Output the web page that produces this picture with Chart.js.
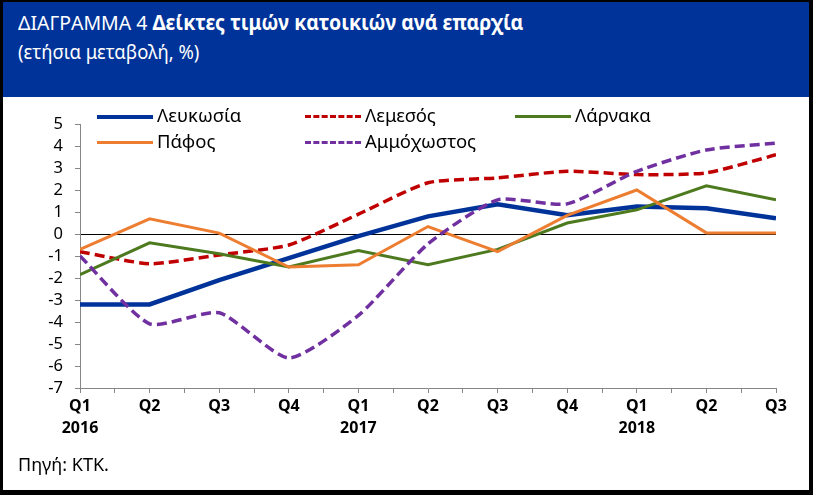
<!DOCTYPE html>
<html><head><meta charset="utf-8">
<script src="https://cdn.jsdelivr.net/npm/chart.js@4"></script>
<style>
html,body{margin:0;padding:0;background:#fff;}
#wrap{position:absolute;left:0;top:0;width:813px;height:495px;overflow:hidden;font-family:"Noto Sans",sans-serif;}
#frame{position:absolute;left:0;top:0;width:813px;height:495px;box-sizing:border-box;border-style:solid;border-color:#000;border-width:2px 4px 5px 3px;z-index:3;pointer-events:none;}
#header{position:absolute;left:3px;top:2px;width:806px;height:95px;background:#003399;z-index:2;}
.t{position:absolute;color:#fff;white-space:nowrap;transform-origin:0 50%;}
#c{position:absolute;left:0;top:0;z-index:1;}
#legend{position:absolute;left:0;top:0;z-index:2;}
.li{position:absolute;height:20px;}
.ls{position:absolute;top:9px;width:56px;height:0;}
.lt{position:absolute;left:60px;top:-4px;font-size:18.5px;white-space:nowrap;color:#000;transform-origin:0 50%;}
#src{position:absolute;left:18px;top:452px;font-size:18px;color:#000;z-index:2;white-space:nowrap;transform-origin:0 50%;}
</style></head>
<body>
<div id="wrap">
<div id="header">
 <div class="t" style="left:15px;top:6px;font-size:20.5px;transform:scaleX(0.95);">ΔΙΑΓΡΑΜΜΑ 4 <b>Δείκτες τιμών κατοικιών ανά επαρχία</b></div>
 <div class="t" style="left:15px;top:35px;font-size:20.5px;transform:scaleX(0.9);">(ετήσια μεταβολή, %)</div>
</div>
<canvas id="c" width="813" height="495"></canvas>
<div id="legend"></div>
<div id="src">Πηγή: ΚΤΚ.</div>
<div id="frame"></div>
</div>
<script>
// Data
const quarters = ["Q1","Q2","Q3","Q4","Q1","Q2","Q3","Q4","Q1","Q2","Q3"];
const years = ["2016","","","","2017","","","","2018","",""];
const seriesNames = ["Λευκωσία","Λεμεσός","Λάρνακα","Πάφος","Αμμόχωστος"];
const nicosia   = [-3.2,-3.2,-2.1,-1.1,-0.1,0.8,1.35,0.85,1.25,1.17,0.72];
const limassol  = [-0.8,-1.35,-0.95,-0.5,0.9,2.33,2.55,2.85,2.7,2.78,3.6];
const larnaca   = [-1.85,-0.4,-0.9,-1.5,-0.75,-1.4,-0.7,0.5,1.1,2.19,1.55];
const paphos    = [-0.7,0.69,0.04,-1.5,-1.4,0.34,-0.8,0.85,2.0,0.05,0.05];
const famagusta = [-1.0,-4.08,-3.58,-5.64,-3.7,-0.45,1.55,1.37,2.85,3.82,4.13];
const yTicksMin = -7, yTicksMax = 5;

const styles = [
 {color:"#003399", width:4.5, dash:[], tension:0},
 {color:"#C00000", width:3.5, dash:[10,5], tension:0.2},
 {color:"#4E7A1F", width:3, dash:[], tension:0},
 {color:"#ED7D31", width:3, dash:[], tension:0},
 {color:"#7030A0", width:3.5, dash:[10,5], tension:0.2}
];
const allSeries = [nicosia, limassol, larnaca, paphos, famagusta];

const datasets = allSeries.map((arr,i)=>({
  label: seriesNames[i],
  data: arr.map((v,k)=>({x:k,y:v})),
  borderColor: styles[i].color,
  backgroundColor: styles[i].color,
  borderWidth: styles[i].width,
  borderDash: styles[i].dash,
  tension: styles[i].tension,
  pointRadius: 0,
  fill: false,
  order: allSeries.length - i
}));

// HTML legend
const legendPos = [[97,106],[305,106],[515,106],[97,132],[305,132]];
const lg = document.getElementById('legend');
seriesNames.forEach((n,i)=>{
  const d = document.createElement('div');
  d.className='li'; d.style.left=legendPos[i][0]+'px'; d.style.top=legendPos[i][1]+'px';
  const s = document.createElement('div'); s.className='ls';
  s.style.borderTop = styles[i].width+'px '+(styles[i].dash.length?'dashed':'solid')+' '+styles[i].color;
  const t = document.createElement('div'); t.className='lt'; t.textContent=n;
  d.appendChild(s); d.appendChild(t); lg.appendChild(d);
});

new Chart(document.getElementById('c'), {
  type:'line',
  data:{datasets},
  options:{
    responsive:false, animation:false, devicePixelRatio:1,
    layout:{padding:{top:124,right:37,left:0,bottom:0}},
    plugins:{legend:{display:false},tooltip:{enabled:false}},
    scales:{
      x:{type:'linear',min:0,max:quarters.length-1,
        grid:{drawOnChartArea:false,tickLength:5,tickColor:'#868686'},
        border:{color:'#868686'},
        afterFit:s=>{s.height=107;},
        ticks:{stepSize:0.5,autoSkip:false,maxRotation:0,color:'#000',padding:2,
          font:{family:'Noto Sans',size:16,weight:'bold',lineHeight:1.4},
          callback:(v)=>{ if(!Number.isInteger(v)) return ''; const q=quarters[v]; return years[v]?[q,years[v]]:q; }}
      },
      y:{min:yTicksMin,max:yTicksMax,
        grid:{drawOnChartArea:true,tickLength:5,tickColor:'#868686',
          color:ctx=>ctx.tick && ctx.tick.value===0?'#000':'rgba(0,0,0,0)',lineWidth:1},
        border:{color:'#868686'},
        afterFit:s=>{s.width=80;},
        ticks:{stepSize:1,autoSkip:false,color:'#000',padding:12,font:{family:'Noto Sans',size:16.5}}
      }
    }
  }
});
</script>
</body></html>
